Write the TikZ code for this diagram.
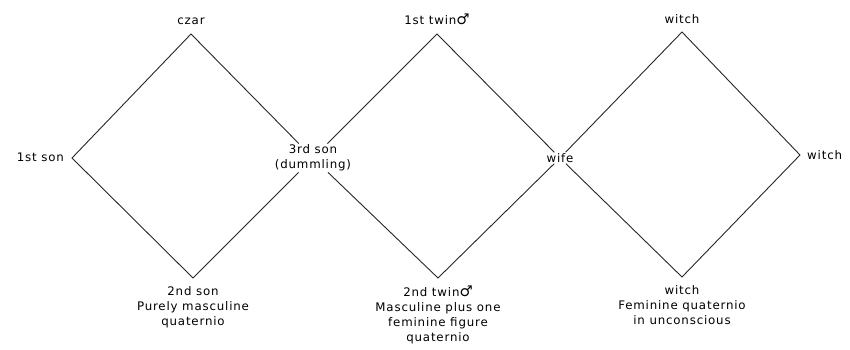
\documentclass[tikz,border=0pt]{standalone}
\usepackage{fontspec}
\setmainfont[LetterSpace=7]{DejaVu Sans}
\newfontfamily\symfont{DejaVu Sans}
\newcommand\malesign{{\symfont\scalebox{1.25}{♂}}}
\begin{document}
\begin{tikzpicture}[x=1pt,y=-1pt,
  font=\fontsize{11.8}{15}\selectfont,
  lab/.style={inner sep=1pt, align=center},
  edge/.style={draw, line width=0.9pt, black!85}]
\useasboundingbox (0,0) rectangle (850,350);
% vertices
\coordinate (T1) at (191,34);
\coordinate (L1) at (72,158);
\coordinate (B1) at (193,278);
\node[lab] (son3) at (313,158) {3rd son\\(dummling)};
\coordinate (T2) at (437,34);
\coordinate (B2) at (438,278);
\node[lab] (wife) at (560,158) {wife};
\coordinate (T3) at (682,32);
\coordinate (R3) at (800,155);
\coordinate (B3) at (682,277);
% labels
\node[lab] (czar) at (191,21) {czar};
\node[lab] (twin1) at (437,19) {1st twin\malesign};
\node[lab] (witch1) at (682,19) {witch};
\node[lab, anchor=east] (son1) at (65,157) {1st son};
\node[lab, anchor=west] (witch2) at (806,155) {witch};
\node[lab, anchor=north] (son2) at (193,285) {2nd son\\Purely masculine\\quaternio};
\node[lab, anchor=north] (twin2) at (438,285) {2nd twin\malesign\\Masculine plus one\\feminine figure\\quaternio};
\node[lab, anchor=north] (witch3) at (682,284) {witch\\Feminine quaternio\\in unconscious};
% diamonds
\draw[edge] (son3) -- (T1) -- (L1) -- (B1) -- (son3);
\draw[edge] (son3) -- (T2) -- (wife);
\draw[edge] (son3) -- (B2) -- (wife);
\draw[edge] (wife) -- (T3) -- (R3) -- (B3) -- (wife);
\end{tikzpicture}
\end{document}
